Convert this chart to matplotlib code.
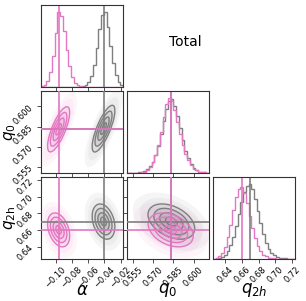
import numpy as np
import matplotlib
matplotlib.use("Agg")
import matplotlib.pyplot as plt
from matplotlib.patches import Ellipse

# plot ranges per parameter (alpha, q0, q2h)
alpha_range = [-0.118, -0.017]
q0_range = [0.5505, 0.6115]
q2h_range = [0.625, 0.7236]

alpha_ticks = [-0.10, -0.08, -0.06, -0.04, -0.02]
q0_ticks = [0.555, 0.570, 0.585, 0.600]
q2h_ticks = [0.64, 0.66, 0.68, 0.70, 0.72]

x_labels = [r"$\alpha$", r"$q_0$", r"$q_{2h}$"]
y_labels = [None, r"$q_0$", r"$q_{\rm 2h}$"]

# 1D histogram counts (30 bins across each range)
pink_alpha_counts = [1, 3, 8, 20, 42, 72, 100, 95, 75, 50, 28, 14, 6, 3, 1,
                     0, 0, 0, 0, 0, 0, 0, 0, 0, 0, 0, 0, 0, 0, 0]
gray_alpha_counts = [0, 0, 0, 0, 0, 0, 0, 0, 0, 0, 0, 0, 0, 0, 0,
                     1, 3, 7, 15, 30, 52, 78, 97, 100, 80, 55, 32, 16, 7, 3]
pink_q0_counts = [0, 0, 0, 0, 0, 1, 2, 4, 8, 15, 24, 38, 55, 75, 93,
                  100, 96, 84, 68, 52, 38, 26, 17, 11, 6, 4, 2, 1, 1, 0]
gray_q0_counts = [0, 0, 0, 0, 1, 1, 3, 5, 9, 15, 24, 36, 52, 70, 86,
                  96, 99, 90, 76, 60, 44, 30, 20, 12, 7, 4, 2, 1, 1, 0]
pink_q2h_counts = [0, 2, 4, 9, 17, 30, 48, 68, 86, 97, 100, 92, 78, 60, 43,
                   29, 18, 11, 6, 4, 2, 1, 1, 0, 0, 0, 0, 0, 0, 0]
gray_q2h_counts = [0, 1, 2, 3, 6, 11, 19, 31, 46, 63, 80, 94, 102, 104, 97,
                   84, 67, 50, 35, 23, 14, 8, 5, 3, 2, 1, 1, 0, 0, 0]

# truth / reference values (vertical and horizontal lines)
pink_truth = [-0.0963, 0.5835, 0.660]
gray_truth = [-0.0410, 0.5835, 0.670]

# 2D posterior summaries: centres, widths and correlations
pink_mean = [-0.0963, 0.5830, 0.6600]
gray_mean = [-0.0410, 0.5835, 0.6700]
pink_sd = [0.0068, 0.0084, 0.0102]
gray_sd = [0.0070, 0.0087, 0.0106]
# correlations for pairs (alpha,q0), (alpha,q2h), (q0,q2h)
pink_rho = [0.75, -0.35, -0.35]
gray_rho = [0.77, -0.30, -0.40]

PINK = "#e377c2"
GRAY = "#7f7f7f"

ranges = [alpha_range, q0_range, q2h_range]
ticks = [alpha_ticks, q0_ticks, q2h_ticks]
pink_counts = [pink_alpha_counts, pink_q0_counts, pink_q2h_counts]
gray_counts = [gray_alpha_counts, gray_q0_counts, gray_q2h_counts]
pair_index = {(1, 0): 0, (2, 0): 1, (2, 1): 2}


def add_cov_ellipse(ax, mean, sd, rho, nsig, **kw):
    cov = np.array([[sd[0] ** 2, rho * sd[0] * sd[1]],
                    [rho * sd[0] * sd[1], sd[1] ** 2]])
    vals, vecs = np.linalg.eigh(cov)
    angle = np.degrees(np.arctan2(vecs[1, 1], vecs[0, 1]))
    e = Ellipse(mean, 2 * nsig * np.sqrt(vals[1]), 2 * nsig * np.sqrt(vals[0]),
                angle=angle, **kw)
    ax.add_patch(e)


def draw_2d(ax, mean, sd, rho, color):
    # faint cloud standing in for the scattered samples
    for n in [3.3, 2.7]:
        add_cov_ellipse(ax, mean, sd, rho, n, facecolor=color, edgecolor="none",
                        alpha=0.07, zorder=1)
    # density shading inside the contours
    for n in [2.0, 1.5, 1.0, 0.5]:
        add_cov_ellipse(ax, mean, sd, rho, n, facecolor=color, edgecolor="none",
                        alpha=0.12, zorder=2)
    for n in [0.5, 1.0, 1.5, 2.0]:
        add_cov_ellipse(ax, mean, sd, rho, n, facecolor="none", edgecolor=color,
                        lw=1.0, zorder=3)


fig = plt.figure(figsize=(3.06, 3.01), dpi=100)
W, H = 306.0, 301.0
col_left = [41, 127, 213]
row_top = [5, 91, 177]
size = 82

for i in range(3):
    for j in range(i + 1):
        ax = fig.add_axes([col_left[j] / W, 1 - (row_top[i] + size) / H, size / W, size / H])
        ax.set_xlim(ranges[j])
        ax.set_xticks(ticks[j])
        for s in ax.spines.values():
            s.set_linewidth(0.8)
            s.set_color("#333333")
        ax.tick_params(length=3, width=0.6, labelsize=6, pad=1.5, color="#333333")

        if i == j:
            edges = np.linspace(ranges[j][0], ranges[j][1], len(pink_counts[j]) + 1)
            ax.stairs(gray_counts[j], edges, color=GRAY, lw=1.0)
            ax.stairs(pink_counts[j], edges, color=PINK, lw=1.0)
            top = max(max(gray_counts[j]), max(pink_counts[j]))
            ax.set_ylim(0, 1.1 * top)
            ax.set_yticks([])
            ax.axvline(gray_truth[j], color=GRAY, lw=1.2)
            ax.axvline(pink_truth[j], color=PINK, lw=1.2)
        else:
            k = pair_index[(i, j)]
            ax.set_ylim(ranges[i])
            ax.set_yticks(ticks[i])
            draw_2d(ax, [gray_mean[j], gray_mean[i]], [gray_sd[j], gray_sd[i]], gray_rho[k], GRAY)
            draw_2d(ax, [pink_mean[j], pink_mean[i]], [pink_sd[j], pink_sd[i]], pink_rho[k], PINK)
            ax.axvline(gray_truth[j], color=GRAY, lw=1.2, zorder=4)
            ax.axhline(gray_truth[i], color=GRAY, lw=1.2, zorder=4)
            ax.axvline(pink_truth[j], color=PINK, lw=1.2, zorder=5)
            ax.axhline(pink_truth[i], color=PINK, lw=1.2, zorder=5)
            if j == 0:
                for lab in ax.get_yticklabels():
                    lab.set_rotation(45)
                ax.set_ylabel(y_labels[i], fontsize=11)
                ax.yaxis.set_label_coords(-0.28, 0.5)
            else:
                ax.set_yticklabels([])

        if i == 2:
            for lab in ax.get_xticklabels():
                lab.set_rotation(45)
            ax.set_xlabel(x_labels[j], fontsize=12)
            ax.xaxis.set_label_coords(0.5, -0.27)
        else:
            ax.set_xticklabels([])

fig.text(185 / W, 1 - 42 / H, "Total", fontsize=10, ha="center", va="center")

fig.savefig("out.png", dpi=100)
